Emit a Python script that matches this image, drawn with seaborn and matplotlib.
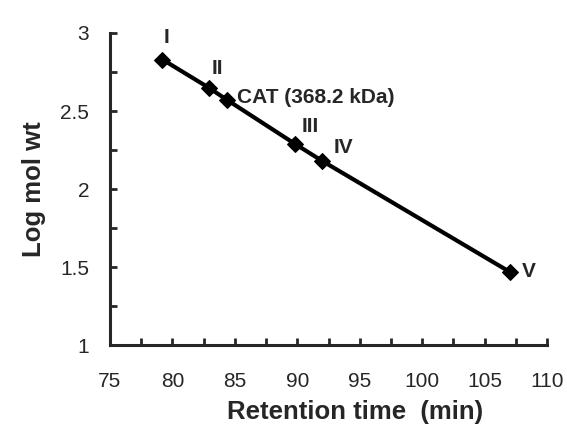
import pandas as pd
import matplotlib
matplotlib.use("Agg")
import matplotlib.pyplot as plt
import seaborn as sns
from matplotlib.ticker import MultipleLocator

# Calibration standards
labels = ["I", "II", "CAT (368.2 kDa)", "III", "IV", "V"]
retention = [79.2, 82.9, 84.4, 89.8, 92.0, 107.0]
log_mw = [2.83, 2.65, 2.57, 2.29, 2.18, 1.47]

df = pd.DataFrame({"Retention time (min)": retention, "Log mol wt": log_mw, "label": labels})

sns.set_style("ticks")
plt.rcParams["font.family"] = ["Liberation Sans", "DejaVu Sans"]

fig = plt.figure(figsize=(5.67, 4.37), dpi=100)
ax = fig.add_axes([0.194, 0.21, 0.771, 0.7145])

sns.lineplot(data=df, x="Retention time (min)", y="Log mol wt", ax=ax,
             color="black", linewidth=3, marker="D", markersize=8,
             markeredgecolor="black", sort=False)

# point labels
offsets = {"I": (1, 9), "II": (2, 7), "CAT (368.2 kDa)": (7, 2),
           "III": (5, 6), "IV": (8, 3), "V": (9, 0)}
for _, r in df.iterrows():
    dx, dy = offsets[r["label"]]
    ax.annotate(r["label"], (r["Retention time (min)"], r["Log mol wt"]),
                xytext=(dx, dy), textcoords="offset points",
                fontsize=15, fontweight="bold", va="bottom" if dy > 2 else "center")

ax.set_xlim(75, 110)
ax.set_ylim(1, 3)
ax.xaxis.set_major_locator(MultipleLocator(5))
ax.xaxis.set_minor_locator(MultipleLocator(2.5))
ax.yaxis.set_minor_locator(MultipleLocator(0.25))
ax.set_yticks([1, 1.5, 2, 2.5, 3])
ax.set_yticklabels(["1", "1.5", "2", "2.5", "3"])

ax.tick_params(which="both", direction="in", width=2, length=5, labelsize=15)
ax.tick_params(axis="x", pad=19)
ax.tick_params(axis="y", pad=15)
sns.despine(ax=ax)
for s in ["left", "bottom"]:
    ax.spines[s].set_linewidth(2.2)

ax.set_xlabel("Retention time  (min)", fontsize=18.5, fontweight="bold")
ax.set_ylabel("Log mol wt", fontsize=18.5, fontweight="bold", labelpad=10)
ax.xaxis.set_label_coords(0.56, -0.175)

fig.savefig("out.png", dpi=100)
